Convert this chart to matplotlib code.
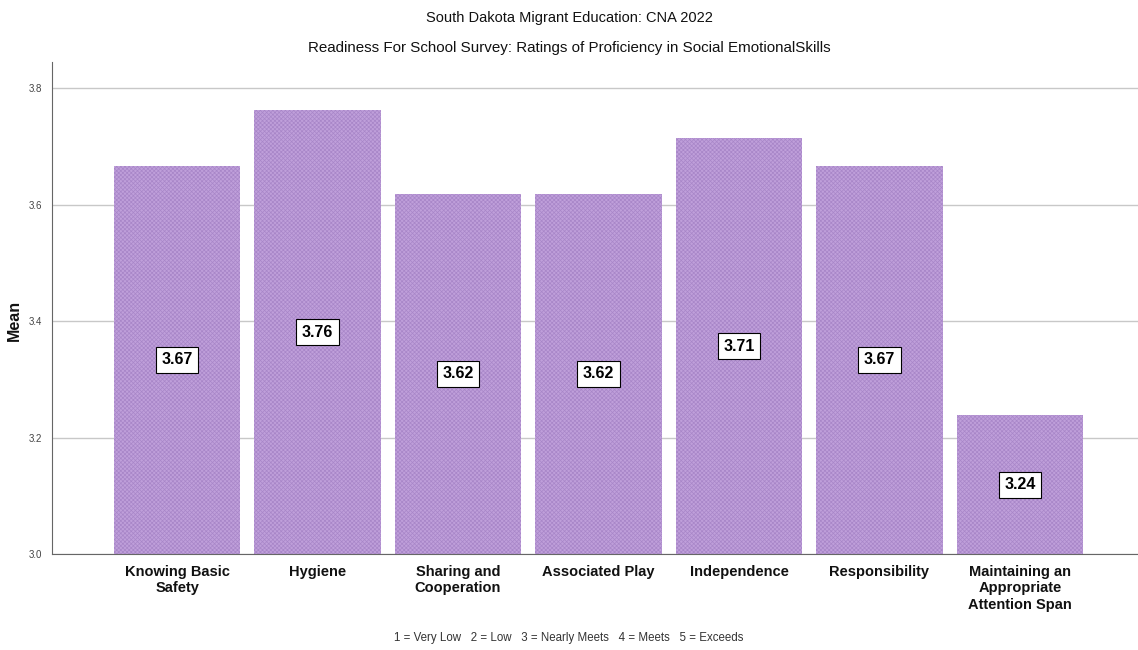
import matplotlib.pyplot as plt
import matplotlib as mpl

# =========================
# DATA
# =========================
skills = ['Knowing Basic\nSafety', 'Hygiene', 'Sharing and\nCooperation',
          'Associated Play', 'Independence', 'Responsibility',
          'Maintaining an\nAppropriate\nAttention Span']
means = [3.667, 3.762, 3.619, 3.619, 3.714, 3.667, 3.238]
yticks = [3.0, 3.2, 3.4, 3.6, 3.8]

plt.rcParams['font.family'] = ['Liberation Sans', 'DejaVu Sans']
mpl.rcParams['hatch.linewidth'] = 0.5

# =========================
# CHART
# =========================
fig = plt.figure(figsize=(11.38, 6.5), dpi=100)
ax = fig.add_axes([0.0457, 0.1477, 0.9543, 0.757])

x = range(len(skills))
bars = ax.bar(x, means, width=0.9, color='#bf9fda', hatch='xxxxxxxx',
              edgecolor='#a886c8', linewidth=0, zorder=2)

for xi, v in zip(x, means):
    ax.text(xi, (3.0 + v) / 2, f'{v:.2f}', ha='center', va='center',
            fontsize=11.5, fontweight='bold', zorder=3,
            bbox=dict(boxstyle='square,pad=0.35', fc='white', ec='black', lw=0.8))

ax.set_ylim(3.0, 3.845)
ax.set_xlim(-0.89, 6.84)
ax.set_yticks(yticks)
ax.set_yticklabels([f'{t:.1f}' for t in yticks], fontsize=7, color='#444444')
ax.set_xticks(list(x))
ax.set_xticklabels(skills, fontsize=10.5, fontweight='bold', color='#111111',
                   linespacing=1.2, va='top')
ax.tick_params(axis='both', length=0)
ax.tick_params(axis='x', pad=8)
ax.tick_params(axis='y', pad=7)
ax.yaxis.grid(True, color='#c8c8c8', lw=1, zorder=0)
ax.set_axisbelow(True)

for s in ['top', 'right']:
    ax.spines[s].set_visible(False)
ax.spines['left'].set_color('#666666')
ax.spines['bottom'].set_color('#666666')

fig.text(14 / 1138, 1 - 320 / 650, 'Mean', rotation=90, ha='center', va='center',
         fontsize=11.5, fontweight='bold', color='#111111')

fig.text(0.5, 0.972, 'South Dakota Migrant Education: CNA 2022',
         ha='center', va='center', fontsize=10.5, color='#111111')
fig.text(0.5, 0.926, 'Readiness For School Survey: Ratings of Proficiency in Social EmotionalSkills',
         ha='center', va='center', fontsize=10.9, color='#111111')
fig.text(0.5, 0.019, '1 = Very Low   2 = Low   3 = Nearly Meets   4 = Meets   5 = Exceeds',
         ha='center', va='center', fontsize=8.3, color='#333333')

plt.savefig('out.png', dpi=100)
plt.close()
